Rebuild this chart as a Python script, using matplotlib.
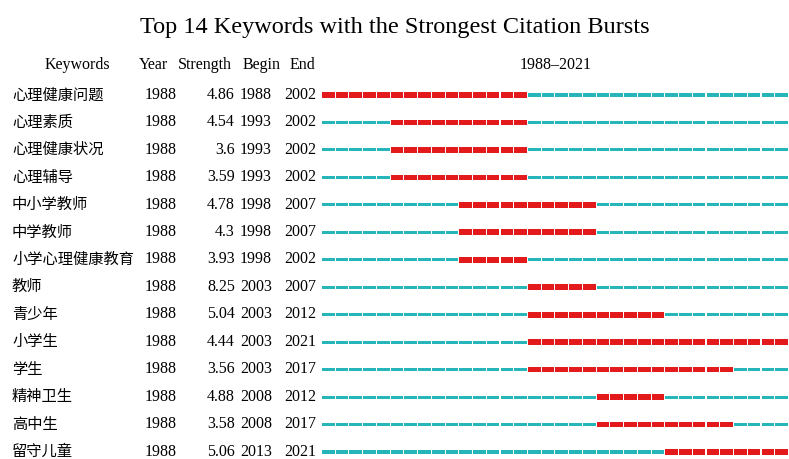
import matplotlib
matplotlib.use("Agg")
import matplotlib.pyplot as plt
from matplotlib.transforms import blended_transform_factory

keywords = ["心理健康问题", "心理素质", "心理健康状况", "心理辅导", "中小学教师", "中学教师",
            "小学心理健康教育", "教师", "青少年", "小学生", "学生", "精神卫生", "高中生", "留守儿童"]
year = [1988] * 14
strength = ["4.86", "4.54", "3.6", "3.59", "4.78", "4.3", "3.93", "8.25", "5.04", "4.44", "3.56", "4.88", "3.58", "5.06"]
begin = [1988, 1993, 1993, 1993, 1998, 1998, 1998, 2003, 2003, 2003, 2003, 2008, 2008, 2013]
end = [2002, 2002, 2002, 2002, 2007, 2007, 2002, 2007, 2012, 2021, 2017, 2012, 2017, 2021]
first_year, last_year = 1988, 2021

RED = "#e31a1c"
CYAN = "#26b5b9"
serif = ["Liberation Serif", "DejaVu Serif"]
cjk = ["Noto Sans CJK SC", "DejaVu Sans"]

W, H = 789, 460
fig = plt.figure(figsize=(W / 100, H / 100), dpi=100)
fig.patch.set_facecolor("white")

# bar axes: x in years, y in rows
ax = fig.add_axes([322 / W, 0, 1 - 322 / W, 1])
row0_px, row13_px = 96, 453
row_px = (row13_px - row0_px) / 13
top_row = -row0_px / row_px
bot_row = 13 + (H - row13_px) / row_px
ax.set_xlim(first_year, last_year + 1)
ax.set_ylim(bot_row, top_row)
ax.axis("off")

gap = 0.08
years = list(range(first_year, last_year + 1))
for i in range(len(keywords)):
    rx = [y for y in years if begin[i] <= y <= end[i]]
    cx = [y for y in years if not (begin[i] <= y <= end[i])]
    hr, hc = 0.21, 0.11
    ax.bar(rx, hr, width=1 - gap, bottom=i - hr / 2, align="edge", color=RED, edgecolor="none")
    ax.bar(cx, hc, width=1 - gap, bottom=i - hc / 2, align="edge", color=CYAN, edgecolor="none")

tr = blended_transform_factory(fig.transFigure, ax.transData)
fx = lambda px: px / W
fs = 11.5
for i in range(len(keywords)):
    yy = i - 0.12
    fig.text(fx(12), yy, keywords[i], transform=tr, family=cjk, fontsize=11, va="center_baseline", ha="left")
    fig.text(fx(161), yy, str(year[i]), transform=tr, family=serif, fontsize=fs, va="center_baseline", ha="center")
    fig.text(fx(235), yy, strength[i], transform=tr, family=serif, fontsize=fs, va="center_baseline", ha="right")
    fig.text(fx(256), yy, str(begin[i]), transform=tr, family=serif, fontsize=fs, va="center_baseline", ha="center")
    fig.text(fx(300), yy, str(end[i]), transform=tr, family=serif, fontsize=fs, va="center_baseline", ha="center")

hy = 1 - 69 / H
fig.text(fx(77), hy, "Keywords", family=serif, fontsize=fs, va="baseline", ha="center")
fig.text(fx(153), hy, "Year", family=serif, fontsize=fs, va="baseline", ha="center")
fig.text(fx(205), hy, "Strength", family=serif, fontsize=fs, va="baseline", ha="center")
fig.text(fx(262), hy, "Begin", family=serif, fontsize=fs, va="baseline", ha="center")
fig.text(fx(302), hy, "End", family=serif, fontsize=fs, va="baseline", ha="center")
fig.text(fx(556), hy, f"{first_year}–{last_year}", family=serif, fontsize=fs, va="baseline", ha="center")

fig.text(fx(395), 1 - 33 / H, "Top 14 Keywords with the Strongest Citation Bursts",
         family=serif, fontsize=17.5, va="baseline", ha="center")

fig.savefig("out.png", dpi=100, facecolor="white")
